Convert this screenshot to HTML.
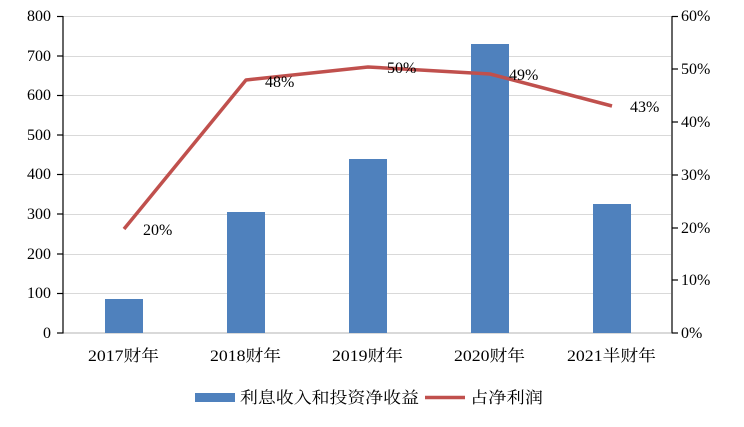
<!DOCTYPE html>
<html><head><meta charset="utf-8"><style>
body{margin:0;background:#fff;}
svg text{font-family:"Liberation Serif","Noto Serif CJK SC",serif;font-size:16px;fill:#000;}
</style></head><body>
<svg width="744" height="422" xmlns="http://www.w3.org/2000/svg">
<g stroke="#d9d9d9" stroke-width="1">
<line x1="63" x2="671" y1="16.5" y2="16.5"/>
<line x1="63" x2="671" y1="56.5" y2="56.5"/>
<line x1="63" x2="671" y1="95.5" y2="95.5"/>
<line x1="63" x2="671" y1="135.5" y2="135.5"/>
<line x1="63" x2="671" y1="174.5" y2="174.5"/>
<line x1="63" x2="671" y1="214.5" y2="214.5"/>
<line x1="63" x2="671" y1="254.5" y2="254.5"/>
<line x1="63" x2="671" y1="293.5" y2="293.5"/>
<line x1="63" x2="671" y1="333" y2="333" stroke-width="2"/>
</g>
<g stroke="#000" stroke-width="1.2">
<line x1="63" x2="63" y1="16" y2="333.5"/>
<line x1="672" x2="672" y1="16" y2="333.5"/>
<line x1="57" x2="63" y1="16.5" y2="16.5"/>
<line x1="57" x2="63" y1="56" y2="56"/>
<line x1="57" x2="63" y1="95.5" y2="95.5"/>
<line x1="57" x2="63" y1="135" y2="135"/>
<line x1="57" x2="63" y1="174.5" y2="174.5"/>
<line x1="57" x2="63" y1="214" y2="214"/>
<line x1="57" x2="63" y1="254" y2="254"/>
<line x1="57" x2="63" y1="293.5" y2="293.5"/>
<line x1="57" x2="63" y1="333" y2="333"/>
<line x1="672" x2="678" y1="16.5" y2="16.5"/>
<line x1="672" x2="678" y1="69" y2="69"/>
<line x1="672" x2="678" y1="122" y2="122"/>
<line x1="672" x2="678" y1="175" y2="175"/>
<line x1="672" x2="678" y1="228" y2="228"/>
<line x1="672" x2="678" y1="280" y2="280"/>
<line x1="672" x2="678" y1="333" y2="333"/>
</g>
<g fill="#4f81bd">
<rect x="105" y="299" width="38" height="34"/>
<rect x="227" y="212" width="38" height="121"/>
<rect x="349" y="159" width="38" height="174"/>
<rect x="471" y="44" width="38" height="289"/>
<rect x="593" y="204" width="38" height="129"/>
</g>
<polyline points="124,229 246,80 368,67 490,74 612,106" fill="none" stroke="#c0504d" stroke-width="3.5" stroke-linejoin="round"/>
<g>
<text x="143" y="235">20%</text>
<text x="265" y="87">48%</text>
<text x="387" y="73">50%</text>
<text x="509" y="80">49%</text>
<text x="630" y="112">43%</text>
</g>
<g text-anchor="end">
<text x="51" y="21">800</text>
<text x="51" y="61">700</text>
<text x="51" y="100">600</text>
<text x="51" y="140">500</text>
<text x="51" y="179">400</text>
<text x="51" y="219">300</text>
<text x="51" y="259">200</text>
<text x="51" y="298">100</text>
<text x="51" y="338">0</text>
</g>
<g>
<text x="681" y="21">60%</text>
<text x="681" y="74">50%</text>
<text x="681" y="127">40%</text>
<text x="681" y="180">30%</text>
<text x="681" y="233">20%</text>
<text x="681" y="285">10%</text>
<text x="681" y="338">0%</text>
</g>
<g>
<text x="88" y="361" textLength="71" lengthAdjust="spacingAndGlyphs">2017财年</text>
<text x="210" y="361" textLength="71" lengthAdjust="spacingAndGlyphs">2018财年</text>
<text x="332" y="361" textLength="71" lengthAdjust="spacingAndGlyphs">2019财年</text>
<text x="454" y="361" textLength="71" lengthAdjust="spacingAndGlyphs">2020财年</text>
<text x="567" y="361" textLength="89" lengthAdjust="spacingAndGlyphs">2021半财年</text>
</g>
<rect x="195" y="393" width="40" height="9" fill="#4f81bd"/>
<text x="240" y="403" textLength="179" lengthAdjust="spacingAndGlyphs">利息收入和投资净收益</text>
<line x1="425" x2="465" y1="397.5" y2="397.5" stroke="#c0504d" stroke-width="3.5"/>
<text x="470" y="403" textLength="73" lengthAdjust="spacingAndGlyphs">占净利润</text>
</svg>
</body></html>
